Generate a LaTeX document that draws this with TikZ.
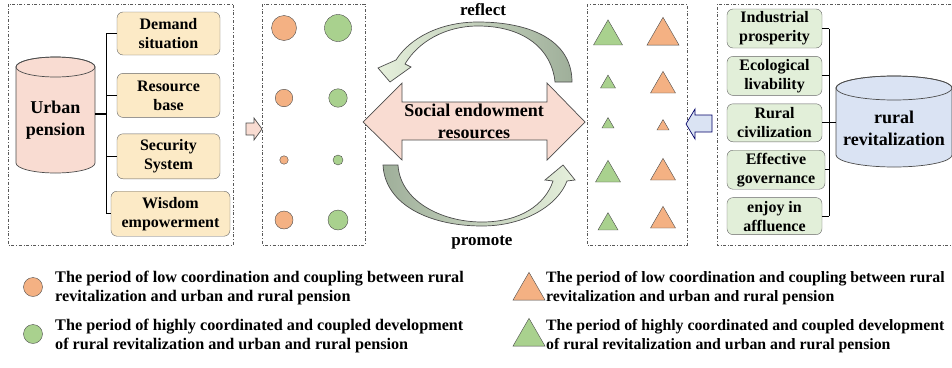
\documentclass[tikz,border=0pt]{standalone}
\usepackage{fontspec}
\setmainfont{Liberation Serif}
\usetikzlibrary{positioning,shapes.geometric}

\definecolor{pinkfill}{HTML}{F9DCD2}
\definecolor{yelfill}{HTML}{FCEAC6}
\definecolor{grnfill}{HTML}{E2EFD9}
\definecolor{bluefill}{HTML}{DAE3F3}
\definecolor{orangedot}{HTML}{F4B183}
\definecolor{greendot}{HTML}{A9D18E}
\definecolor{darkarc}{HTML}{9FAF9A}
\definecolor{lightarc}{HTML}{E6F0DC}

\begin{document}
\begin{tikzpicture}[x=1pt,y=1pt,
    every node/.style={font=\bfseries},
    frame/.style={draw=black!65, dash dot, line width=0.7pt},
    ybox/.style={draw=black!60, fill=yelfill, rounded corners=6pt, align=center,
        inner sep=1pt, font=\fontsize{16}{19}\selectfont\bfseries},
    gbox/.style={draw=black!60, fill=grnfill, rounded corners=6pt, align=center,
        inner sep=1pt, minimum width=95pt, font=\fontsize{16}{19}\selectfont\bfseries},
    cyl/.style={draw=black!70, line width=0.7pt},
    dot/.style={circle, draw=black!70, inner sep=0pt},
    tri/.style={regular polygon, regular polygon sides=3, draw=black!70, inner sep=0pt},
    link/.style={black, line width=0.9pt},
    big/.style={font=\fontsize{18}{22}\selectfont\bfseries, align=center},
    legend/.style={anchor=west, align=left, inner sep=0pt, font=\fontsize{16.2}{19}\selectfont\bfseries}]
  \useasboundingbox (0,0) rectangle (952,-367);

  %%%%% FRAMES
  \draw[frame] (8,-4) rectangle (233,-245);
  \draw[frame] (262,-4) rectangle (365,-245);
  \draw[frame] (587,-4) rectangle (687,-245);
  \draw[frame] (951,-4) -- (717,-4) -- (717,-245) -- (951,-245);

  %%%%% URBAN PENSION
  \draw[cyl, fill=pinkfill] (16,-67) -- (16,-163)
    arc[start angle=180, end angle=360, x radius=39.5, y radius=10] -- (95,-67)
    arc[start angle=0, end angle=180, x radius=39.5, y radius=10] -- cycle;
  \draw[cyl] (55.5,-67) ellipse[x radius=39.5, y radius=10];
  \node[big, minimum width=79pt, minimum height=100pt] (urban) at (55.5,-120) {Urban\\pension};

  \node[ybox, minimum width=103pt, minimum height=43pt] (demand) at (168.5,-33.5) {Demand\\situation};
  \node[ybox, minimum width=103pt, minimum height=44pt, below=18pt of demand] (resource) {Resource\\base};
  \node[ybox, minimum width=103pt, minimum height=45pt, below=16pt of resource] (security) {Security\\System};
  \node[ybox, minimum width=119pt, minimum height=45pt, below=12pt of security, xshift=2pt] (wisdom) {Wisdom\\empowerment};

  \coordinate (lj) at (106,-114);
  \foreach \b in {demand,resource,security,wisdom}
    \draw[link] (\b.west) -- (\b.west -| lj);
  \draw[link] (demand.west -| lj) -- (wisdom.west -| lj);
  \draw[link, line width=1.6pt] (lj -| urban.east) -- (lj);

  % arrow into the circles
  \draw[cyl, fill=pinkfill] (246,-123) -- (254,-123) -- (254,-118) -- (262,-129)
    -- (254,-140) -- (254,-135) -- (246,-135) -- cycle;

  %%%%% CIRCLES
  \foreach \y/\dor/\dgr [count=\i] in {28/25/27, 98/17.5/18.5, 160/8.5/10, 220/18/20} {
    \node[dot, fill=orangedot, minimum size=\dor] (co\i) at (284,-\y) {};
    \node[dot, fill=greendot, minimum size=\dgr] (cg\i) at (338,-\y) {};
  }

  %%%%% SOCIAL ENDOWMENT RESOURCES
  \draw[cyl, fill=pinkfill] (363,-122) -- (402,-83) -- (402,-102) -- (547,-102) -- (547,-83)
    -- (585,-122) -- (547,-160) -- (547,-140) -- (402,-140) -- (402,-160) -- cycle;
  \node[big] (social) at (474,-121) {Social endowment\\resources};

  % reflect
  \draw[cyl, left color=lightarc, right color=darkarc]
    (572,-82) .. controls (572,-40) and (530,-22) .. (478,-22)
    .. controls (440,-22) and (410,-38) .. (396,-60)
    -- (378,-68) -- (390,-82) -- (411,-67) -- (405,-64)
    .. controls (418,-42) and (445,-26) .. (478,-26)
    .. controls (525,-26) and (552,-50) .. (555,-82) -- cycle;
  \node[font=\fontsize{17}{20}\selectfont\bfseries] (reflect) at (483,-10) {reflect};

  % promote
  \draw[cyl, left color=darkarc, right color=lightarc]
    (383,-165) .. controls (385,-205) and (430,-226) .. (482,-226)
    .. controls (525,-226) and (558,-205) .. (567,-181)
    -- (575,-180) -- (563,-165) -- (545,-180) -- (553,-181)
    .. controls (545,-205) and (520,-222) .. (482,-222)
    .. controls (440,-222) and (400,-200) .. (398,-165) -- cycle;
  \node[font=\fontsize{17}{20}\selectfont\bfseries] (promote) at (482,-243) {promote};

  %%%%% TRIANGLES
  \foreach \gy/\gs/\oy/\os [count=\i] in {36.6/33.5/35.8/37, 83.7/17.3/85.8/28.9,
      124.5/13.9/126.5/13.9, 174.8/28.9/172.8/28.9, 224.2/23.1/220.8/28.9} {
    \node[tri, fill=greendot, minimum size=\gs] (tg\i) at (608,-\gy) {};
    \node[tri, fill=orangedot, minimum size=\os] (to\i) at (663,-\oy) {};
  }

  % arrow into the triangles
  \draw[draw=black!60!blue, line width=0.7pt, fill=bluefill] (712,-115) -- (695,-115) -- (695,-109)
    -- (686,-124) -- (695,-139) -- (695,-132) -- (712,-132) -- cycle;

  %%%%% RURAL REVITALIZATION
  \node[gbox, minimum height=39pt] (indus) at (774.5,-28.5) {Industrial\\prosperity};
  \node[gbox, minimum height=39pt, below=8pt of indus] (eco) {Ecological\\livability};
  \node[gbox, minimum height=38pt, below=8pt of eco] (civil) {Rural\\civilization};
  \node[gbox, minimum width=98pt, minimum height=39pt, below=8pt of civil, xshift=1.5pt] (govern) {Effective\\governance};
  \node[gbox, minimum height=37pt, below=8pt of govern, xshift=-1.5pt] (enjoy) {enjoy in\\affluence};

  \draw[cyl, fill=bluefill] (836,-88) -- (836,-155)
    arc[start angle=180, end angle=360, x radius=58, y radius=12] -- (952,-88)
    arc[start angle=0, end angle=180, x radius=58, y radius=12] -- cycle;
  \draw[cyl] (894,-88) ellipse[x radius=58, y radius=12];
  \node[big, minimum width=116pt, minimum height=70pt] (rural) at (894,-128) {rural\\revitalization};

  \coordinate (rj) at (829,-122);
  \foreach \b in {indus,eco,civil,govern,enjoy}
    \draw[link] (\b.east) -- (\b.east -| rj);
  \draw[link] (indus.east -| rj) -- (enjoy.east -| rj);
  \draw[link] (rj) -- (rj -| rural.west);

  %%%%% LEGEND
  \node[dot, fill=orangedot, minimum size=19pt] (lco) at (33,-287) {};
  \node[legend] (lcotext) at (55,-288) {The period of low coordination and coupling between rural\\revitalization and urban and rural pension};
  \node[dot, fill=greendot, minimum size=19pt] (lcg) at (33,-334) {};
  \node[legend] (lcgtext) at (55,-336) {The period of highly coordinated and coupled development\\of rural revitalization and urban and rural pension};
  \node[tri, fill=orangedot, minimum size=37pt] (lto) at (529,-290.8) {};
  \node[legend, font=\fontsize{15.8}{19}\selectfont\bfseries] (ltotext) at (546,-288) {The period of low coordination and coupling between rural\\revitalization and urban and rural pension};
  \node[tri, fill=greendot, minimum size=37pt] (ltg) at (529,-336.8) {};
  \node[legend, font=\fontsize{15.8}{19}\selectfont\bfseries] (ltgtext) at (546,-336) {The period of highly coordinated and coupled development\\of rural revitalization and urban and rural pension};
\end{tikzpicture}
\end{document}
